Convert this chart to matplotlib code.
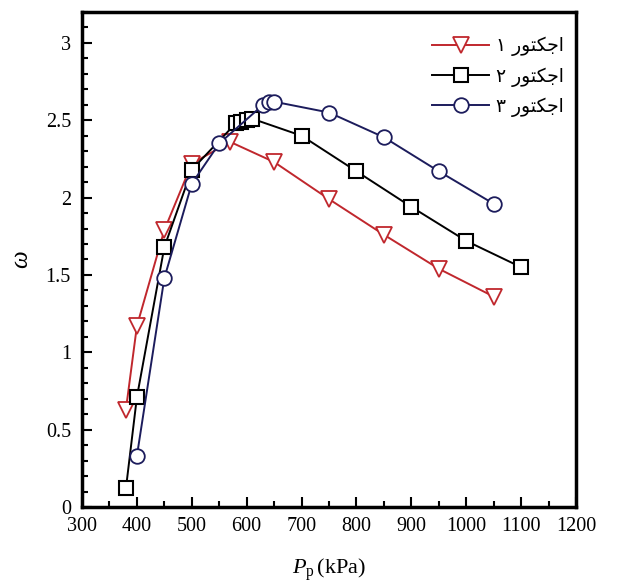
import matplotlib
matplotlib.use("Agg")
import matplotlib.pyplot as plt
from matplotlib.ticker import MultipleLocator

# Persian labels, pre-shaped and in visual order (matplotlib does no bidi/shaping)
word = "\uFEAD\uFEEE\uFE98\uFEDC\uFE9F\uFE8D"  # اجکتور
labels = ["\u06F1 " + word, "\u06F2 " + word, "\u06F3 " + word]

x1 = [380, 400, 450, 500, 570, 650, 750, 850, 950, 1050]
y1 = [0.63, 1.17, 1.79, 2.22, 2.36, 2.23, 1.99, 1.76, 1.54, 1.36]

x2 = [380, 400, 450, 500, 580, 590, 600, 610, 700, 800, 900, 1000, 1100]
y2 = [0.12, 0.71, 1.68, 2.18, 2.48, 2.49, 2.50, 2.51, 2.40, 2.17, 1.94, 1.72, 1.55]

x3 = [400, 450, 500, 550, 630, 640, 650, 750, 850, 950, 1050]
y3 = [0.33, 1.48, 2.09, 2.35, 2.60, 2.62, 2.62, 2.55, 2.39, 2.17, 1.96]

plt.rcParams["font.family"] = ["Liberation Serif", "DejaVu Sans"]
plt.rcParams["mathtext.fontset"] = "custom"
plt.rcParams["mathtext.it"] = "Liberation Serif:italic"
plt.rcParams["mathtext.rm"] = "Liberation Serif"

fig = plt.figure(figsize=(6.18, 5.87), dpi=100)
ax = fig.add_axes([0.1327, 0.1363, 0.7994, 0.8433])

red = "#c0272d"
navy = "#1c1c5c"
ax.plot(x1, y1, color=red, lw=1.4, marker="v", ms=11.5, mfc="white", mec=red, mew=1.3, label=labels[0])
ax.plot(x2, y2, color="black", lw=1.4, marker="s", ms=10, mfc="white", mec="black", mew=1.5, label=labels[1])
ax.plot(x3, y3, color=navy, lw=1.4, marker="o", ms=10.5, mfc="white", mec=navy, mew=1.3, label=labels[2])

ax.set_xlim(300, 1200)
ax.set_ylim(0, 3.2)
ax.xaxis.set_major_locator(MultipleLocator(100))
ax.xaxis.set_minor_locator(MultipleLocator(50))
ax.yaxis.set_minor_locator(MultipleLocator(0.1))
ax.set_yticks([0, 0.5, 1, 1.5, 2, 2.5, 3])
ax.set_yticklabels(["0", "0.5", "1", "1.5", "2", "2.5", "3"])

ax.tick_params(which="both", direction="in", top=False, right=False, labelsize=14.5, width=1.5)
ax.tick_params(which="major", length=7)
ax.tick_params(which="minor", length=4)
ax.tick_params(axis="x", pad=7)
ax.tick_params(axis="y", pad=8)
for s in ax.spines.values():
    s.set_linewidth(2.5)

ax.set_xlabel(r"$P_{\mathrm{p}}\,(\mathrm{kPa})$", fontsize=16, labelpad=15)
ax.set_ylabel(r"$\omega$", fontsize=18, labelpad=9)

ax.legend(loc="upper right", bbox_to_anchor=(1.01, 0.985), frameon=False,
          handlelength=3.0, handletextpad=0.4, labelspacing=0.55,
          prop={"family": "DejaVu Sans", "size": 13.5})

fig.savefig("out.png", dpi=100)
